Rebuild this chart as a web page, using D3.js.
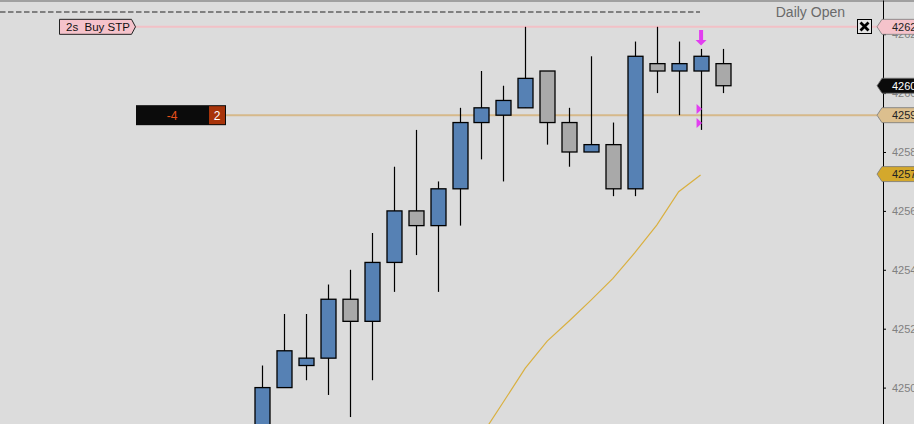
<!DOCTYPE html>
<html>
<head>
<meta charset="utf-8">
<script src="https://cdn.jsdelivr.net/npm/d3@7/dist/d3.min.js"></script>
<style>
html,body{margin:0;padding:0;background:#dcdcdc;overflow:hidden;}
svg{display:block;font-family:"Liberation Sans",Arial,sans-serif;}
</style>
</head>
<body>
<svg id="c" width="914" height="424"></svg>
<script>
// ---- data ----
const bars   = d3.range(22);
const opens  = [4248.5,4250.0,4250.75,4251.0,4253.0,4252.25,4254.25,4256.0,4255.5,4256.75,4259.0,4259.25,4259.5,4260.75,4259.0,4258.0,4258.25,4256.75,4261.0,4260.75,4260.75,4261.0];
const highs  = [4250.75,4252.5,4252.5,4253.5,4254.0,4255.25,4257.5,4258.75,4257.0,4259.5,4260.75,4260.25,4262.25,4260.75,4259.5,4261.25,4259.0,4261.75,4262.25,4261.75,4261.5,4261.5];
const lows   = [4248.25,4250.0,4250.25,4249.75,4249.0,4250.25,4253.25,4254.5,4253.25,4255.5,4257.75,4257.0,4259.5,4258.25,4257.5,4258.0,4256.5,4256.5,4260.0,4259.25,4258.75,4260.0];
const closes = [4250.0,4251.25,4251.0,4253.0,4252.25,4254.25,4256.0,4255.5,4256.75,4259.0,4259.5,4259.75,4260.5,4259.0,4258.0,4258.25,4256.75,4261.25,4260.75,4261.0,4261.25,4260.25];
const maStart = 10;
const maValues = [4248.37,4249.51,4250.66,4251.58,4252.26,4252.97,4253.71,4254.58,4255.52,4256.65,4257.22];
const tickValues = [4250,4252,4254,4256,4258,4260,4262];
const dailyOpen = 4262.75;
const orderPrice = 4262.25;   // 2s Buy STP
const entryPrice = 4259.25;   // position line
const lastPrice = 4260.25;
const maLast = 4257.25;
const orderLabel = "2s  Buy STP";
const posPnl = "-4", posQty = "2";

// ---- scales ----
const svg = d3.select("#c");
const W = 914, H = 424, axisX = 883;
const y = d3.scaleLinear().domain([4248.764, 4263.161]).range([H, 0]);
const x = d3.scaleLinear().domain([0, 21]).range([262.3, 722.5]);

// top border & daily open
svg.append("line").attr("x1",0).attr("x2",W).attr("y1",1).attr("y2",1).attr("stroke","#a0a0a0").attr("stroke-width",2);
svg.append("line").attr("x1",0).attr("x2",700).attr("y1",y(dailyOpen)).attr("y2",y(dailyOpen))
  .attr("stroke","#808080").attr("stroke-width",2).attr("stroke-dasharray","5.5,2.5");
svg.append("text").attr("x",845).attr("y",y(dailyOpen)+5).attr("text-anchor","end")
  .attr("font-size",14).attr("fill","#6a6a6a").text("Daily Open");

// axis
const axis = d3.axisRight(y).tickValues(tickValues).tickSize(3).tickSizeOuter(0).tickPadding(6).tickFormat(d3.format("d"));
const ag = svg.append("g").attr("transform",`translate(${axisX},0)`).call(axis);
ag.select(".domain").attr("stroke","#000");
ag.selectAll(".tick line").attr("stroke","#000");
ag.selectAll(".tick text").attr("fill","#808080").attr("font-size",11).attr("font-family","Liberation Sans, Arial");

// horizontal order/position lines
svg.append("line").attr("x1",135).attr("x2",877).attr("y1",y(orderPrice)).attr("y2",y(orderPrice)).attr("stroke","#f2c0c6").attr("stroke-width",2);
svg.append("line").attr("x1",225).attr("x2",877).attr("y1",y(entryPrice)).attr("y2",y(entryPrice)).attr("stroke","#d6b98a").attr("stroke-width",2);

// MA line
const maLine = d3.line().x((d,i)=>x(maStart+i)).y(d=>y(d));
svg.append("path").datum(maValues).attr("d",maLine).attr("fill","none").attr("stroke","#d9b040").attr("stroke-width",1.2);

// candles
const g = svg.append("g");
g.selectAll("line.w").data(bars).join("line")
  .attr("x1",i=>Math.round(x(i))+0.5).attr("x2",i=>Math.round(x(i))+0.5)
  .attr("y1",i=>y(highs[i])).attr("y2",i=>y(lows[i]))
  .attr("stroke","#000").attr("stroke-width",1.2);
g.selectAll("rect.b").data(bars).join("rect")
  .attr("x",i=>Math.round(x(i))+0.5-7.5).attr("width",15)
  .attr("y",i=>y(Math.max(opens[i],closes[i])))
  .attr("height",i=>Math.max(1,Math.abs(y(opens[i])-y(closes[i]))))
  .attr("fill",i=>closes[i]>=opens[i]?"#5681b4":"#a9a9a9")
  .attr("stroke","#000").attr("stroke-width",1.3);

// magenta markers
const mx = x(20);
svg.append("path").attr("d",`M${mx-1.5},30 h4 v10 h3.5 l-5.5,5.5 l-5.5,-5.5 h3.5 z`).attr("fill","#e23ef0");
[109,123].forEach(cy=>{
  svg.append("path").attr("d",`M${mx-4},${cy-5} L${mx+1.5},${cy} L${mx-4},${cy+5} z`).attr("fill","#e23ef0");
});

// order label left
const oy = y(orderPrice);
svg.append("path").attr("d",`M59.5,${oy-7.5} H131.5 L135.5,${oy} L131.5,${oy+7.5} H59.5 Z`)
  .attr("fill","#f5c3cb").attr("stroke","#222").attr("stroke-width",1);
svg.append("text").attr("x",66).attr("y",oy+4.5).attr("font-size",11.5).attr("fill","#111")
  .attr("xml:space","preserve").style("white-space","pre").text(orderLabel);

// position box
const py = y(entryPrice);
svg.append("rect").attr("x",136).attr("y",py-10).attr("width",90).attr("height",20).attr("fill","#0b0b0b");
svg.append("rect").attr("x",209).attr("y",py-9).attr("width",16).attr("height",18).attr("fill","#a8340a");
svg.append("text").attr("x",172).attr("y",py+4.5).attr("text-anchor","middle").attr("font-size",12).attr("fill","#e8501a").text(posPnl);
svg.append("text").attr("x",217).attr("y",py+4.5).attr("text-anchor","middle").attr("font-size",12).attr("fill","#fff").text(posQty);

// close button
svg.append("rect").attr("x",857.5).attr("y",19.5).attr("width",14).attr("height",14).attr("fill","#e4e4e4").attr("stroke","#000").attr("stroke-width",1);
svg.append("path").attr("d","M860.5,22.5 L868.5,30.5 M868.5,22.5 L860.5,30.5").attr("stroke","#000").attr("stroke-width",2.8);

// right price labels
function priceLabel(v, fill, textFill){
  const cy = y(v);
  svg.append("path").attr("d",`M877,${cy} L882,${cy-7.5} H916 V${cy+7.5} H882 Z`)
    .attr("fill",fill).attr("stroke","#777").attr("stroke-width",0.8);
  svg.append("text").attr("x",892).attr("y",cy+4).attr("font-size",11).attr("fill",textFill).text(d3.format(".2f")(v));
}
priceLabel(orderPrice,"#f5c3cb","#222");
priceLabel(lastPrice,"#0b0b0b","#fff");
priceLabel(entryPrice,"#dcbf8e","#222");
priceLabel(maLast,"#d4a82c","#222");
</script>
</body>
</html>
